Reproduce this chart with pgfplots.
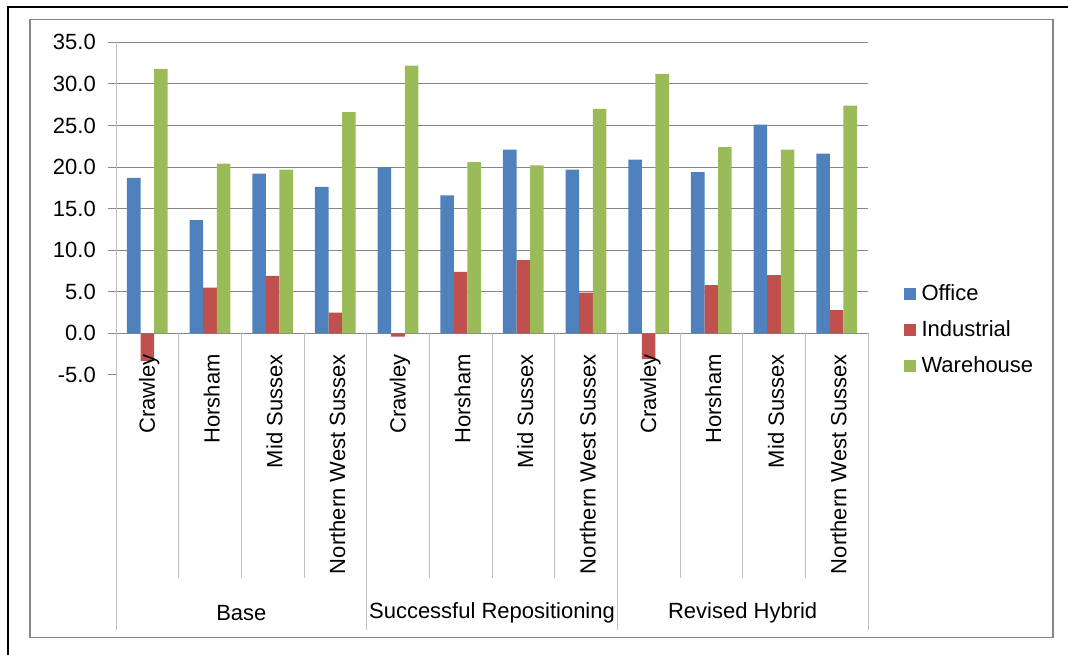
\documentclass[border=0pt]{standalone}
\usepackage{pgfplots}
\usepackage{pgfplotstable}
\pgfplotsset{compat=1.18}
\usepackage{fontspec}
\setmainfont{Liberation Sans}

\definecolor{office}{HTML}{4F81BD}
\definecolor{industrial}{HTML}{C0504D}
\definecolor{warehouse}{HTML}{9BBB59}
\definecolor{gridgray}{HTML}{868686}
\definecolor{sepgray}{HTML}{C0C0C0}

% rental growth by area and scenario
\pgfplotstableread{
x  office industrial warehouse
0  18.7   -3.3       31.8
1  13.6    5.5       20.4
2  19.2    6.9       19.7
3  17.6    2.5       26.6
4  20.0   -0.4       32.2
5  16.6    7.4       20.6
6  22.1    8.8       20.2
7  19.7    4.9       27.0
8  20.9   -3.1       31.2
9  19.4    5.8       22.4
10 25.1    7.0       22.1
11 21.6    2.8       27.4
}\data

\begin{document}
\fontsize{22bp}{26bp}\selectfont
\begin{tikzpicture}
\path[use as bounding box] (0,0) rectangle (1068bp,-655bp);
\begin{axis}[
  at={(116bp,-374.9bp)}, anchor=south west,
  scale only axis,
  width=752bp, height=332.6bp,
  xmin=-0.5, xmax=11.5,
  ymin=-5, ymax=35,
  clip=false,
  ybar, bar width=13.6bp,
  axis line style={draw=none},
  xtick=\empty,
  ytick={0,5,...,35},
  extra y ticks={-5},
  extra y tick style={grid=none},
  ymajorgrids,
  grid style={gridgray, line width=1bp},
  tick align=outside, ytick pos=left,
  major tick length=8bp,
  tick style={gridgray, line width=1bp},
  /pgf/number format/assume math mode=true,
  yticklabel style={inner sep=0pt, xshift=-12bp,
    /pgf/number format/fixed, /pgf/number format/fixed zerofill,
    /pgf/number format/precision=1},
  legend style={draw=none, fill=none, at={(1.043,0.135)}, anchor=west,
    nodes={inner sep=0pt}, row sep=17bp, column sep=6bp},
  legend cell align=left,
  legend image code/.code={\fill[#1] (0bp,-6bp) rectangle (12bp,6bp);},
]
\addplot[fill=office, draw=none, bar shift=-13.6bp] table[x=x, y=office] {\data};
\addplot[fill=industrial, draw=none, bar shift=0bp] table[x=x, y=industrial] {\data};
\addplot[fill=warehouse, draw=none, bar shift=13.6bp] table[x=x, y=warehouse] {\data};
\legend{Office, Industrial, Warehouse}

% category table below the zero line
\draw[sepgray, line width=1bp] (-0.5,35) -- (-0.5,-35.67);
\draw[sepgray, line width=1bp] (3.5,0) -- (3.5,-35.67);
\draw[sepgray, line width=1bp] (7.5,0) -- (7.5,-35.67);
\draw[sepgray, line width=1bp] (11.5,0) -- (11.5,-35.67);
\draw[sepgray, line width=1bp] (0.5,0) -- (0.5,-29.42);
\draw[sepgray, line width=1bp] (1.5,0) -- (1.5,-29.42);
\draw[sepgray, line width=1bp] (2.5,0) -- (2.5,-29.42);
\draw[sepgray, line width=1bp] (4.5,0) -- (4.5,-29.42);
\draw[sepgray, line width=1bp] (5.5,0) -- (5.5,-29.42);
\draw[sepgray, line width=1bp] (6.5,0) -- (6.5,-29.42);
\draw[sepgray, line width=1bp] (8.5,0) -- (8.5,-29.42);
\draw[sepgray, line width=1bp] (9.5,0) -- (9.5,-29.42);
\draw[sepgray, line width=1bp] (10.5,0) -- (10.5,-29.42);

\node[rotate=90, anchor=east, inner sep=0pt] at (0.03,-2.5) {Crawley};
\node[rotate=90, anchor=east, inner sep=0pt] at (1.03,-2.5) {Horsham};
\node[rotate=90, anchor=east, inner sep=0pt] at (2.03,-2.5) {Mid Sussex};
\node[rotate=90, anchor=east, inner sep=0pt] at (3.03,-2.5) {Northern West Sussex};
\node[rotate=90, anchor=east, inner sep=0pt] at (4.03,-2.5) {Crawley};
\node[rotate=90, anchor=east, inner sep=0pt] at (5.03,-2.5) {Horsham};
\node[rotate=90, anchor=east, inner sep=0pt] at (6.03,-2.5) {Mid Sussex};
\node[rotate=90, anchor=east, inner sep=0pt] at (7.03,-2.5) {Northern West Sussex};
\node[rotate=90, anchor=east, inner sep=0pt] at (8.03,-2.5) {Crawley};
\node[rotate=90, anchor=east, inner sep=0pt] at (9.03,-2.5) {Horsham};
\node[rotate=90, anchor=east, inner sep=0pt] at (10.03,-2.5) {Mid Sussex};
\node[rotate=90, anchor=east, inner sep=0pt] at (11.03,-2.5) {Northern West Sussex};

\node[inner sep=0pt] at (1.5,-33.6) {Base};
\node[inner sep=0pt] at (5.5,-33.6) {Successful Repositioning};
\node[inner sep=0pt] at (9.5,-33.6) {Revised Hybrid};
\end{axis}
% chart frames
\draw[gridgray, line width=1.8bp] (30bp,-19.5bp) rectangle (1053bp,-637.5bp);
\draw[black, line width=2bp] (8bp,-655bp) -- (8bp,-7bp) -- (1068bp,-7bp);
\end{tikzpicture}
\end{document}
